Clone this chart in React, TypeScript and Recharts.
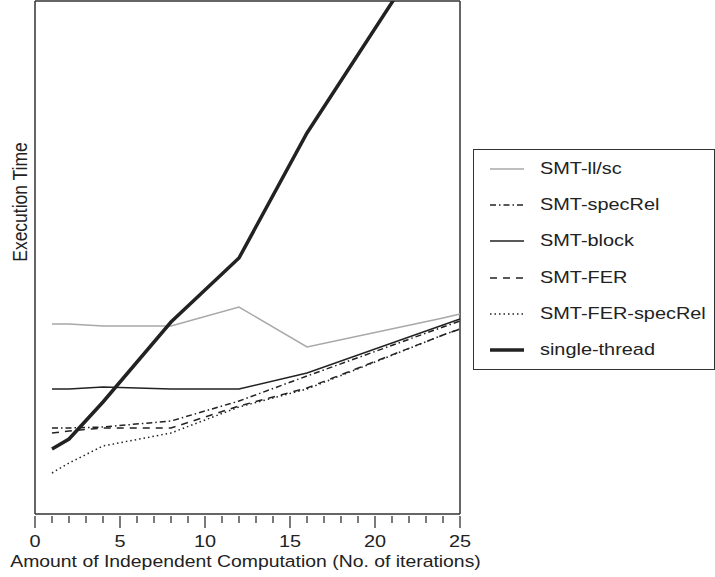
import { LineChart, Line, XAxis, YAxis, ReferenceLine } from "recharts";

const FONT = "'Liberation Sans', Arial, Helvetica, sans-serif";
// the original figure is stretched sideways a bit
const STRETCH = 1.17;

// iterations of independent computation
const iterations = [1, 2, 4, 8, 12, 16, 24, 25];

// execution time (arbitrary units)
const smtLlsc = [190, 190, 188, 188, 207, 167, 196, 200];
const smtSpecRel = [86, 86, 87, 93, 113, 138, 187, 193];
const smtBlock = [125, 125, 127, 125, 125, 141, 189, 195];
const smtFer = [81, 83, 86, 86, 108, 126, 179, 185];
const smtFerSpecRel = [41, 51, 68, 81, 107, 125, 179, 185];
const singleThread = [65, 75, 112, 192, 256, 381, 590, 618];

const xTicks = Array.from({ length: 26 }, (_, i) => i);
const xLabels = [0, 5, 10, 15, 20, 25];

const series = [
  { key: "llsc", name: "SMT-ll/sc", color: "#a8a8a8", width: 1.5, dash: undefined },
  { key: "specRel", name: "SMT-specRel", color: "#222", width: 1.5, dash: "6 3 1.5 3" },
  { key: "block", name: "SMT-block", color: "#222", width: 1.5, dash: undefined },
  { key: "fer", name: "SMT-FER", color: "#222", width: 1.5, dash: "7 6" },
  { key: "ferSpecRel", name: "SMT-FER-specRel", color: "#222", width: 1.5, dash: "1.5 3" },
  { key: "single", name: "single-thread", color: "#222", width: 3.5, dash: undefined },
];

const data = iterations.map((x, i) => ({
  x,
  llsc: smtLlsc[i],
  specRel: smtSpecRel[i],
  block: smtBlock[i],
  fer: smtFer[i],
  ferSpecRel: smtFerSpecRel[i],
  single: singleThread[i],
}));

const XTick = (props: any) => {
  const { x, y, payload } = props;
  const major = xLabels.includes(payload.value);
  return (
    <g>
      <line x1={x} x2={x} y1={y} y2={y + (major ? 12 : 7)} stroke="#333" strokeWidth={1.3} />
      {major && (
        <g transform={`translate(${x},${y + 31}) scale(${STRETCH},1)`}>
          <text x={0} y={0} textAnchor="middle" fontSize={17} fill="#222" fontFamily={FONT}>
            {payload.value}
          </text>
        </g>
      )}
    </g>
  );
};

const XTitle = (props: any) => {
  const { x, y, width } = props.viewBox;
  return (
    <g transform={`translate(${x + width / 2 - 2},${y + 53}) scale(1.14,1)`}>
      <text x={0} y={0} textAnchor="middle" fontSize={17} fill="#222" fontFamily={FONT}>
        Amount of Independent Computation (No. of iterations)
      </text>
    </g>
  );
};

const YTitle = () => (
  <g transform={`translate(27,202) scale(${STRETCH},1) rotate(-90)`}>
    <text x={0} y={0} textAnchor="middle" fontSize={17.5} fill="#222" fontFamily={FONT}>
      Execution Time
    </text>
  </g>
);

export default function App() {
  return (
    <div style={{ position: "absolute", left: 0, top: 0, width: 715, height: 577, background: "#fff" }}>
      <LineChart
        width={715}
        height={577}
        data={data}
        margin={{ top: 1, right: 255, bottom: 0, left: 0 }}
      >
        <XAxis
          dataKey="x"
          type="number"
          domain={[0, 25]}
          ticks={xTicks}
          interval={0}
          tickSize={0}
          tickLine={false}
          tick={<XTick />}
          height={63}
          axisLine={{ stroke: "#333", strokeWidth: 1.5 }}
          label={<XTitle />}
        />
        <YAxis
          type="number"
          domain={[0, 513]}
          allowDataOverflow
          tick={false}
          tickLine={false}
          width={35}
          axisLine={{ stroke: "#333", strokeWidth: 1.5 }}
          label={<YTitle />}
        />
        <ReferenceLine x={25} stroke="#333" strokeWidth={1.5} />
        <ReferenceLine y={513} stroke="#333" strokeWidth={1.5} />
        {series.map((s) => (
          <Line
            key={s.key}
            dataKey={s.key}
            name={s.name}
            type="linear"
            stroke={s.color}
            strokeWidth={s.width}
            strokeDasharray={s.dash}
            dot={false}
            activeDot={false}
            isAnimationActive={false}
          />
        ))}
      </LineChart>
      <div
        style={{
          position: "absolute",
          left: 473,
          top: 149,
          width: 240,
          height: 219,
          border: "1.3px solid #333",
          fontFamily: FONT,
          fontSize: 17,
          color: "#222",
          overflow: "hidden",
        }}
      >
        {series.map((s, i) => (
          <div
            key={s.key}
            style={{ position: "absolute", left: 0, top: 19 + i * 36.2 - 12, height: 24, display: "flex", alignItems: "center" }}
          >
            <svg width={66} height={24} style={{ display: "block" }}>
              <line x1={16} x2={50} y1={12} y2={12} stroke={s.color} strokeWidth={s.width} strokeDasharray={s.dash} />
            </svg>
            <span style={{ whiteSpace: "nowrap", display: "inline-block", transform: `scaleX(${STRETCH})`, transformOrigin: "left center" }}>
              {s.name}
            </span>
          </div>
        ))}
      </div>
    </div>
  );
}
